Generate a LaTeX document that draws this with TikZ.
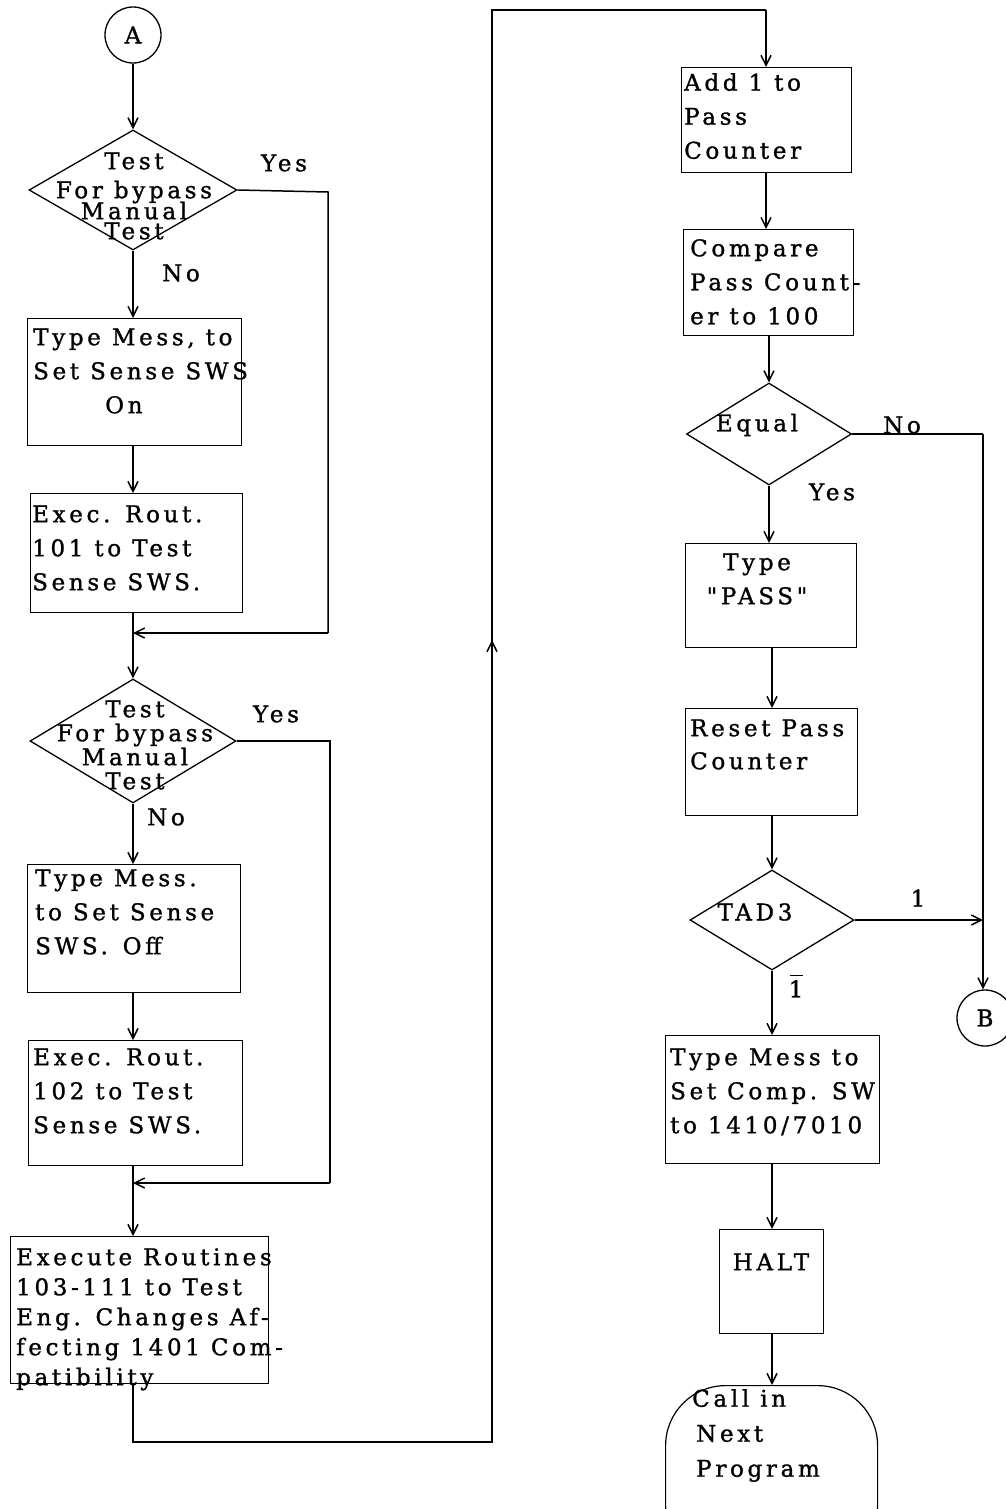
\documentclass[tikz,border=0pt]{standalone}
\usepackage{fontspec}
\newfontfamily\flow{DejaVu Serif}[LetterSpace=16,FakeBold=1.2]
\usetikzlibrary{arrows.meta,shapes.geometric}
\tikzset{
  x=1pt, y=-1pt,
  ln/.style={line width=1.5pt},
  arr/.style={line width=1.5pt, -{Straight Barb[length=10pt,width=10pt,line width=1.5pt]}},
  box/.style={draw, line width=1.3pt, inner sep=0pt, anchor=north west},
  dia/.style={draw, diamond, line width=1.3pt, inner sep=0pt},
  conn/.style={draw, circle, line width=1.3pt, inner sep=0pt, minimum size=56pt, font=\flow\fontsize{23}{24}\selectfont},
  txt/.style={inner sep=0pt, align=left, font=\flow\fontsize{23}{34}\selectfont},
  ctxt/.style={inner sep=0pt, align=center, font=\flow\fontsize{23}{24}\selectfont},
  lbl/.style={inner sep=0pt, font=\flow\fontsize{23}{24}\selectfont},
}
\newcommand{\fs}{\rule{0pt}{17pt}}
\begin{document}
\begin{tikzpicture}
\useasboundingbox (0,0) rectangle (1005,1509);
\fill[white] (0,0) rectangle (1005,1509);

% ---------- left column ----------
\node[conn] (A) at (133,35) {A};

\node[dia, minimum width=208pt, minimum height=120pt] (d1) at (133,190) {};
\node[ctxt, anchor=north] (d1t) at (134,152) {\fs Test\\[5pt]For bypass\\[-3pt]Manual\\[-4pt]Test};
\node[lbl] (y1) at (284,163) {Yes};
\node[lbl] (n1) at (181,273) {No};

\node[box, minimum width=214pt, minimum height=127pt] (b1) at (27,318) {};
\node[txt, anchor=north west] (b1t) at (33,328) {\fs Type Mess, to\\Set Sense SWS\\\hspace*{72pt}On};

\node[box, minimum width=212pt, minimum height=119pt] (b2) at (30,493) {};
\node[txt, anchor=north west] (b2t) at (32,505) {\fs Exec. Rout.\\101 to Test\\Sense SWS.};

\coordinate (m1) at (133,633);
\coordinate (y1a) at (328,192);
\coordinate (y1b) at (328,633);

\node[dia, minimum width=206pt, minimum height=124pt] (d2) at (133,741) {};
\node[ctxt, anchor=north] (d2t) at (135,700) {\fs Test\\For bypass\\Manual\\Test};
\node[lbl] (y2) at (276,714) {Yes};
\node[lbl] (n2) at (166,817) {No};

\node[box, minimum width=213pt, minimum height=128pt] (b3) at (27,864) {};
\node[txt, anchor=north west] (b3t) at (35,869) {\fs Type Mess.\\to Set Sense\\SWS.\ \,Off};

\node[box, minimum width=214pt, minimum height=125pt] (b4) at (28,1040) {};
\node[txt, anchor=north west] (b4t) at (33,1048) {\fs Exec. Rout.\\102 to Test\\Sense SWS.};

\coordinate (m2) at (133,1183);
\coordinate (y2a) at (330,741);
\coordinate (y2b) at (330,1183);

\node[box, minimum width=258pt, minimum height=147pt] (b5) at (10,1236) {};
\node[txt, anchor=north west, font=\flow\fontsize{23}{30}\selectfont] (b5t) at (16,1248) {\fs Execute Routines\\103-111 to Test\\Eng. Changes Af-\\fecting 1401 Com-\\patibility};

\coordinate (c1) at (133,1442);
\coordinate (c2) at (492,1442);
\coordinate (c3) at (492,640);
\coordinate (c4) at (492,10);
\coordinate (c5) at (766,10);

% ---------- right column ----------
\node[box, minimum width=170pt, minimum height=105pt] (r1) at (681,67) {};
\node[txt, anchor=north west] (r1t) at (684,73) {\fs Add 1 to\\Pass\\Counter};

\node[box, minimum width=170pt, minimum height=106pt] (r2) at (683,229) {};
\node[txt, anchor=north west] (r2t) at (690,239) {\fs Compare\\Pass Count-\\er to 100};

\node[dia, minimum width=165pt, minimum height=102pt] (d3) at (769,434) {};
\node[lbl] (d3t) at (757,425) {Equal};
\node[lbl] (n3) at (902,425) {No};
\node[lbl] (y3) at (832,492) {Yes};
\coordinate (e1) at (983,434);

\node[box, minimum width=171pt, minimum height=104pt] (r3) at (685,543) {};
\node[ctxt, anchor=north, font=\flow\fontsize{23}{34}\selectfont] (r3t) at (757,553) {\fs Type\\"PASS"};

\node[box, minimum width=172pt, minimum height=107pt] (r4) at (685,708) {};
\node[txt, anchor=north west, font=\flow\fontsize{23}{33}\selectfont] (r4t) at (690,719) {\fs Reset Pass\\Counter};

\node[dia, minimum width=164pt, minimum height=100pt] (d4) at (772,920) {};
\node[lbl] (d4t) at (755,912) {TAD3};
\node[lbl] (one) at (918,898) {1};
\node[lbl, align=center] (onebar) at (796,986) {\rule{13pt}{1.6pt}\\[-3pt]1};
\coordinate (e2) at (983,920);

\node[conn] (B) at (985,1018) {B};

\node[box, minimum width=214pt, minimum height=128pt] (r5) at (665,1035) {};
\node[txt, anchor=north west] (r5t) at (670,1048) {\fs Type Mess to\\Set Comp. SW\\to 1410/7010};

\node[box, minimum width=104pt, minimum height=104pt] (r6) at (719,1229) {};
\node[lbl, anchor=north] (r6t) at (771,1253) {\fs HALT};

\node[draw, line width=1.2pt, rounded corners=60pt, minimum width=212pt, minimum height=180pt, anchor=north west] (t) at (665,1385) {};
\node[txt, anchor=north west, font=\flow\fontsize{23}{35}\selectfont] (tt) at (692,1389) {\fs Call in\\\hspace*{4pt}Next\\\hspace*{4pt}Program};

% ---------- connectors ----------
\draw[arr] (A) -- (d1.north);
\draw[arr] (d1.south) -- (d1.south |- b1.north);
\draw[arr] (b1.south -| d1.south) -- (d1.south |- b2.north);
\draw[ln] (d1.east) -- (y1a) -- (y1b);
\draw[arr] (y1b) -- (m1);
\draw[ln] (m1 |- b2.south) -- (m1);
\draw[arr] (m1) -- (d2.north);

\draw[arr] (d2.south) -- (d2.south |- b3.north);
\draw[arr] (b3.south -| d2.south) -- (d2.south |- b4.north);
\draw[ln] (d2.east) -- (y2a) -- (y2b);
\draw[arr] (y2b) -- (m2);
\draw[ln] (m2 |- b4.south) -- (m2);
\draw[arr] (m2) -- (m2 |- b5.north);

\draw[ln] (c1 |- b5.south) -- (c1) -- (c2) -- (c3);
\draw[arr] (c2) -- (c3);
\draw[ln] (c3) -- (c4) -- (c5);
\draw[arr] (c5) -- (c5 |- r1.north);

\draw[arr] (r1.south -| c5) -- (c5 |- r2.north);
\draw[arr] (r2.south -| d3.north) -- (d3.north);
\draw[arr] (d3.south) -- (d3.south |- r3.north);
\draw[ln] (d3.east) -- (e1);
\draw[arr] (e1) -- (B.north -| e1);
\draw[arr] (r3.south -| d4.north) -- (d4.north |- r4.north);
\draw[arr] (r4.south -| d4.north) -- (d4.north);
\draw[arr] (d4.east) -- (e2);
\draw[arr] (d4.south) -- (d4.south |- r5.north);
\draw[arr] (r5.south -| d4.south) -- (d4.south |- r6.north);
\draw[arr] (r6.south -| d4.south) -- (d4.south |- t.north);
\end{tikzpicture}
\end{document}
